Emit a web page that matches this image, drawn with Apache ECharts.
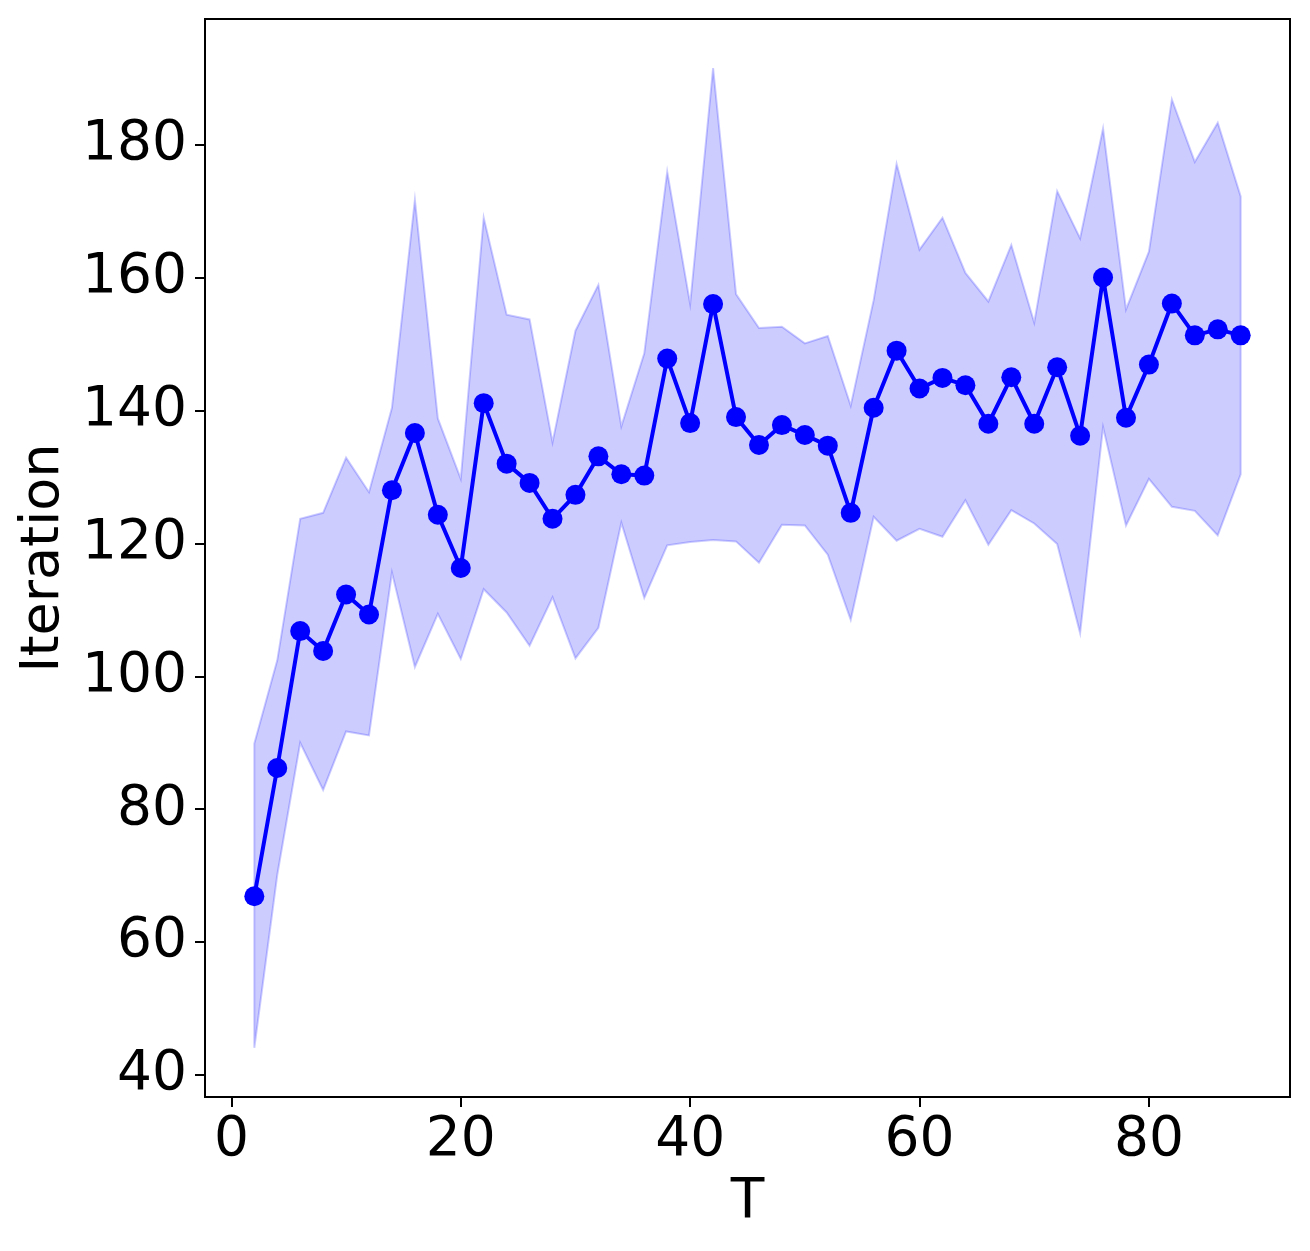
<!DOCTYPE html>
<html>
<head>
<meta charset="utf-8">
<script src="https://cdn.jsdelivr.net/npm/echarts@6/dist/echarts.min.js"></script>
<style>
  html, body { margin: 0; padding: 0; background: #fff; }
  #chart { width: 1310px; height: 1251px; }
</style>
</head>
<body>
<div id="chart"></div>
<script>
// T values along the x axis
var t_values = [2, 4, 6, 8, 10, 12, 14, 16, 18, 20, 22, 24, 26, 28, 30, 32, 34, 36, 38, 40, 42, 44,
    46, 48, 50, 52, 54, 56, 58, 60, 62, 64, 66, 68, 70, 72, 74, 76, 78, 80, 82, 84, 86, 88];

// mean iteration count
var mean_values = [66.9, 86.2, 106.8, 103.8, 112.3, 109.3, 128.0, 136.6, 124.3, 116.3, 141.1, 132.0,
    129.1, 123.7, 127.3, 133.1, 130.4, 130.2, 147.8, 138.1, 156.0, 139.0, 134.8, 137.8, 136.3, 134.7,
    124.6, 140.4, 149.0, 143.3, 144.9, 143.8, 138.0, 145.0, 138.0, 146.5, 136.2, 160.0, 138.9, 146.9,
    156.1, 151.3, 152.2, 151.3];

// band edges
var upper_values = [89.9, 102.4, 123.7, 124.6, 132.9, 127.7, 140.4, 171.7, 138.8, 129.7, 169.0, 154.4,
    153.7, 135.2, 152.0, 158.9, 137.6, 148.6, 175.9, 156.0, 191.5, 157.5, 152.4, 152.6, 150.1, 151.2,
    140.7, 156.6, 177.1, 164.2, 169.0, 160.7, 156.4, 164.9, 153.2, 173.0, 165.9, 182.4, 155.2, 163.9,
    186.8, 177.4, 183.3, 172.2];
var lower_values = [44.1, 70.1, 90.0, 82.9, 91.7, 91.1, 115.6, 101.4, 109.4, 102.6, 113.1, 109.6,
    104.6, 111.9, 102.7, 107.3, 123.1, 111.8, 119.7, 120.2, 120.5, 120.3, 117.1, 122.8, 122.7, 118.3,
    108.5, 124.0, 120.4, 122.2, 121.0, 126.5, 119.8, 125.0, 123.0, 119.9, 106.5, 137.5, 122.7, 129.7,
    125.5, 124.9, 121.2, 130.4];

var x_ticks = [0, 20, 40, 60, 80];
var y_ticks = [40, 60, 80, 100, 120, 140, 160, 180];

var font = 'DejaVu Sans';

var line_data = [];
for (var i = 0; i < t_values.length; ++i)
    line_data.push([t_values[i], mean_values[i]]);

function render_band(params, api) {
    var pts = [];
    for (var i = 0; i < t_values.length; ++i)
        pts.push(api.coord([t_values[i], upper_values[i]]));
    for (var j = t_values.length - 1; j >= 0; --j)
        pts.push(api.coord([t_values[j], lower_values[j]]));
    return {
        type: 'polygon',
        shape: { points: pts },
        style: {
            fill: 'rgba(0,0,255,0.2)',
            stroke: 'rgba(0,0,255,0.2)',
            lineWidth: 2
        }
    };
}

var option = {
    animation: false,
    backgroundColor: '#fff',
    grid: {
        left: 205, right: 20, top: 19, bottom: 154,
        show: true, borderColor: '#000', borderWidth: 2, backgroundColor: 'transparent'
    },
    xAxis: {
        type: 'value',
        min: -2.3, max: 92.3,
        name: 'T',
        nameLocation: 'middle',
        nameGap: 78,
        nameTextStyle: { fontFamily: font, fontSize: 55, color: '#000' },
        splitLine: { show: false },
        axisLine: { show: true, onZero: false, lineStyle: { color: '#000', width: 2 } },
        axisTick: { show: true, inside: false, length: 10, lineStyle: { color: '#000', width: 2 }, customValues: x_ticks },
        axisLabel: { fontFamily: font, fontSize: 55, color: '#000', margin: 16, customValues: x_ticks }
    },
    yAxis: {
        type: 'value',
        min: 36.7, max: 198.9,
        name: 'Iteration',
        nameLocation: 'middle',
        nameGap: 122,
        nameTextStyle: { fontFamily: font, fontSize: 54, color: '#000' },
        splitLine: { show: false },
        axisLine: { show: true, onZero: false, lineStyle: { color: '#000', width: 2 } },
        axisTick: { show: true, inside: false, length: 10, lineStyle: { color: '#000', width: 2 }, customValues: y_ticks },
        axisLabel: { fontFamily: font, fontSize: 55, color: '#000', margin: 18, customValues: y_ticks }
    },
    series: [
        {
            type: 'custom',
            renderItem: render_band,
            data: [[t_values[0], mean_values[0]]],
            silent: true,
            z: 1
        },
        {
            type: 'line',
            data: line_data,
            symbol: 'circle',
            symbolSize: 20,
            itemStyle: { color: '#0000ff' },
            lineStyle: { color: '#0000ff', width: 4 },
            z: 2
        }
    ]
};

var myChart = echarts.init(document.getElementById('chart'));
myChart.setOption(option);
</script>
</body>
</html>
